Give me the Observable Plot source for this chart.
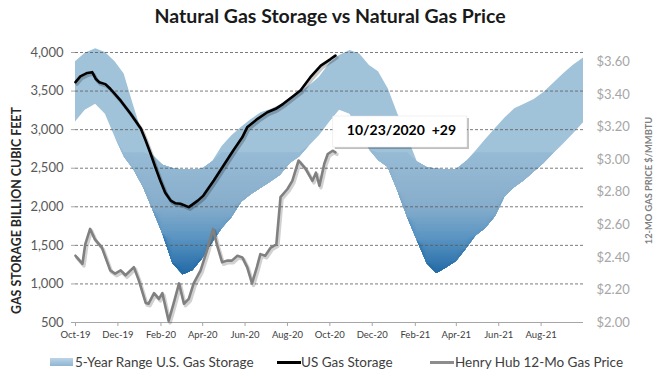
<!DOCTYPE html>
<html><head><meta charset="utf-8">
<script src="https://cdn.jsdelivr.net/npm/d3@7"></script>
<script src="https://cdn.jsdelivr.net/npm/@observablehq/plot@0.6"></script>
<style>
body{margin:0;background:#fff;font-family:Lato,"Open Sans",sans-serif;}
#wrap{position:relative;width:658px;height:376px;overflow:hidden;background:#fff;}
#title{position:absolute;top:4px;left:0;width:660px;text-align:center;font-size:19.5px;font-weight:700;color:#1a1a1a;line-height:24px;}
#chart{position:absolute;top:34px;left:0;}
.leg{position:absolute;top:354px;font-size:13.5px;color:#404040;line-height:16px;white-space:nowrap;}
.sw{position:absolute;}
</style></head><body>
<div id="wrap">
<div id="title">Natural Gas Storage vs Natural Gas Price</div>
<div id="chart"></div>
<div class="sw" style="left:50px;top:358px;width:23px;height:8px;background:linear-gradient(#bcd5e7,#8fb5d2);"></div>
<div class="leg" style="left:75px;">5-Year Range U.S. Gas Storage</div>
<div class="sw" style="left:277px;top:360.5px;width:24px;height:3px;background:#000;"></div>
<div class="leg" style="left:301px;">US Gas Storage</div>
<div class="sw" style="left:430px;top:360.5px;width:24px;height:3px;background:#8c8c8c;"></div>
<div class="leg" style="left:455px;">Henry Hub 12-Mo Gas Price</div>
</div>
<script>
const storageTicks = [500, 1000, 1500, 2000, 2500, 3000, 3500, 4000];
const priceTicks = [2.00, 2.20, 2.40, 2.60, 2.80, 3.00, 3.20, 3.40, 3.60];
const monthTicks = ["2019-10-01","2019-12-01","2020-02-01","2020-04-01","2020-06-01","2020-08-01",
  "2020-10-01","2020-12-01","2021-02-01","2021-04-01","2021-06-01","2021-08-01"];

const bandDates = ["2019-10-01","2019-10-15","2019-10-30","2019-11-13","2019-11-27","2019-12-10","2019-12-24",
 "2020-01-07","2020-01-21","2020-02-04","2020-02-18","2020-03-04","2020-03-18","2020-04-01","2020-04-15","2020-04-29",
 "2020-05-13","2020-05-27","2020-06-10","2020-06-24","2020-07-08","2020-07-22","2020-08-05","2020-08-19","2020-09-02","2020-09-16",
 "2020-10-01","2020-10-15","2020-10-30","2020-11-13","2020-11-27","2020-12-10","2020-12-24",
 "2021-01-07","2021-01-21","2021-02-04","2021-02-18","2021-03-04","2021-03-18","2021-04-01","2021-04-15","2021-04-29",
 "2021-05-13","2021-05-27","2021-06-10","2021-06-24","2021-07-08","2021-07-22","2021-08-05","2021-08-19","2021-09-02","2021-09-16","2021-10-01"];
const bandUpper = [3880,3990,4050,4000,3880,3720,3300,
 2900,2660,2540,2496,2478,2475,2490,2580,2780,
 2920,3030,3130,3220,3260,3320,3410,3480,3570,3680,
 3860,3960,4025,3980,3830,3750,3530,
 3200,2900,2580,2510,2485,2480,2480,2580,2720,
 2870,3010,3150,3270,3330,3390,3480,3600,3720,3830,3930];
const bandLower = [3100,3250,3330,3200,2900,2650,2480,
 2250,1950,1640,1265,1120,1175,1330,1530,1720,
 1860,2060,2160,2240,2320,2410,2560,2650,2790,2920,
 3100,3250,3200,2950,2740,2600,2510,
 2200,1860,1560,1265,1135,1210,1290,1450,1620,
 1720,1870,2130,2250,2340,2450,2560,2690,2810,2940,3090];

const storageDates = ["2019-10-01","2019-10-08","2019-10-18","2019-10-25","2019-10-30","2019-11-04","2019-11-13","2019-11-20",
 "2019-12-05","2019-12-19","2020-01-03","2020-01-10","2020-01-17","2020-01-24","2020-01-31","2020-02-07","2020-02-15",
 "2020-02-22","2020-02-29","2020-03-12","2020-03-25","2020-04-02","2020-04-17","2020-05-01","2020-05-15","2020-05-28",
 "2020-06-04","2020-06-19","2020-07-03","2020-07-15","2020-07-26","2020-08-10","2020-08-20","2020-09-03","2020-09-18",
 "2020-10-02","2020-10-09"];
const storageValues = [3615,3690,3735,3745,3660,3615,3590,3530,
 3375,3210,3015,2860,2690,2510,2340,2185,2080,
 2045,2040,1995,2080,2145,2340,2535,2730,2900,
 3030,3140,3225,3270,3335,3440,3510,3680,3830,
 3915,3960];

const priceDates = ["2019-10-01","2019-10-11","2019-10-15","2019-10-22","2019-10-29","2019-11-08","2019-11-20","2019-11-27",
 "2019-12-05","2019-12-12","2019-12-24","2019-12-31","2020-01-10","2020-01-14","2020-01-22","2020-01-29","2020-02-03",
 "2020-02-12","2020-02-19","2020-02-27","2020-03-05","2020-03-12","2020-03-19","2020-03-29","2020-04-07","2020-04-16",
 "2020-04-22","2020-04-29","2020-05-06","2020-05-13","2020-05-21","2020-05-28","2020-06-04","2020-06-11","2020-06-18",
 "2020-06-23","2020-06-30","2020-07-08","2020-07-16","2020-07-22","2020-08-01","2020-08-08","2020-08-17","2020-08-27",
 "2020-09-06","2020-09-11","2020-09-16","2020-09-23","2020-09-28","2020-10-05","2020-10-09"];
const priceValues = [2.41,2.36,2.48,2.575,2.51,2.46,2.32,2.30,
 2.32,2.29,2.34,2.26,2.12,2.115,2.18,2.145,2.18,
 2.01,2.115,2.24,2.115,2.145,2.24,2.32,2.44,2.575,
 2.47,2.37,2.38,2.38,2.41,2.40,2.34,2.24,2.34,
 2.42,2.41,2.46,2.48,2.77,2.82,2.87,2.995,2.945,
 2.87,2.92,2.84,2.975,3.035,3.055,3.045];

const noteText = "10/23/2020\u00a0\u00a0+29";
const leftTitle = "GAS STORAGE BILLION CUBIC FEET";
const rightTitle = "12-MO GAS PRICE $/MMBTU";

// band shading: colour by storage level (light at the top, dark blue at the bottom)
const shadeLevels = [4100, 2500, 2000, 1600, 1100];
const shadeColors = ["#abcbe0", "#93b8d3", "#86adcb", "#5b95c2", "#1f68a5"];

// secondary (price) axis mapped onto the storage axis
const priceAxis = d3.scaleLinear([2.0, 3.6], [500, 3877]);
const shade = d3.scaleLinear(shadeLevels, shadeColors);

const band = bandDates.map((d, i) => ({date: new Date(d), hi: bandUpper[i], lo: bandLower[i]}));
const storage = storageDates.map((d, i) => ({date: new Date(d), v: storageValues[i]}));
const price = priceDates.map((d, i) => ({date: new Date(d), v: priceAxis(priceValues[i])}));
const noteBox = [{x1: new Date("2020-10-06"), x2: new Date("2021-04-17"), y1: 2768, y2: 3170}];
const note = [{x: new Date("2021-01-12"), y: 2985, t: noteText}];

// layered fills approximating the vertical gradient
const layers = d3.range(2700, 1079, -30);
const bandMarks = [Plot.areaY(band, {x: "date", y1: "lo", y2: "hi", fill: shade(3400)})];
for (const T of layers) {
  bandMarks.push(Plot.areaY(band, {x: "date", y1: "lo", y2: d => Math.max(d.lo, Math.min(d.hi, T)), fill: shade(T - 15)}));
}

const plot = Plot.plot({
  width: 658, height: 312,
  marginTop: 18, marginBottom: 24, marginLeft: 75, marginRight: 75,
  style: {fontFamily: "Lato, 'Open Sans', sans-serif", background: "#fff", overflow: "visible"},
  x: {type: "utc", domain: [new Date("2019-10-01"), new Date("2021-10-01")]},
  y: {domain: [500, 4000]},
  marks: [
    ...bandMarks,
    Plot.ruleY(storageTicks.filter(d => d > 500), {stroke: "#595959", strokeWidth: 0.8, strokeDasharray: "3,2"}),
    Plot.ruleY([500], {stroke: "#a6a6a6"}),
    Plot.axisX({ticks: monthTicks.map(d => new Date(d)), tickFormat: d3.utcFormat("%b-%y"), tickSize: 4, tickPadding: 5,
      fontSize: 9.5, stroke: "#a6a6a6", fill: "#404040", label: null}),
    Plot.axisY({ticks: storageTicks, tickFormat: d3.format(","), tickSize: 4, tickPadding: 8, fontSize: 13,
      stroke: "#a6a6a6", fill: "#595959", label: null}),
    Plot.axisY({anchor: "right", ticks: priceTicks.map(p => priceAxis(p)), tickFormat: d => "$" + priceAxis.invert(d).toFixed(2),
      tickSize: 0, tickPadding: 13, fontSize: 13, fill: "#a6a6a6", label: null}),
    Plot.line(price, {x: "date", y: "v", stroke: "#000", strokeOpacity: 0.18, strokeWidth: 3.5, dx: 1.5, dy: 2}),
    Plot.line(price, {x: "date", y: "v", stroke: "#808080", strokeWidth: 2.6}),
    Plot.line(storage, {x: "date", y: "v", stroke: "#000", strokeOpacity: 0.22, strokeWidth: 3.5, dx: 1.5, dy: 2}),
    Plot.line(storage, {x: "date", y: "v", stroke: "#000", strokeWidth: 2.6}),
    Plot.rect(noteBox, {x1: "x1", x2: "x2", y1: "y1", y2: "y2", fill: "#000", fillOpacity: 0.25, dx: 2, dy: 2}),
    Plot.rect(noteBox, {x1: "x1", x2: "x2", y1: "y1", y2: "y2", fill: "#fff", stroke: "#e0e0e0", strokeWidth: 0.5}),
    Plot.text(note, {x: "x", y: "y", text: "t", fontWeight: "bold", fontSize: 14, fill: "#000"}),
    Plot.text([leftTitle], {frameAnchor: "left", textAnchor: "middle", text: d => d, rotate: -90, dx: -58, dy: 23, fontWeight: "bold", fontSize: 12.4, fill: "#262626"}),
    Plot.text([rightTitle], {frameAnchor: "right", textAnchor: "middle", text: d => d, rotate: -90, dx: 66, dy: -7, fontWeight: "bold", fontSize: 9.3, fill: "#7f7f7f"})
  ]
});

document.getElementById("chart").appendChild(plot);
</script>
</body></html>
